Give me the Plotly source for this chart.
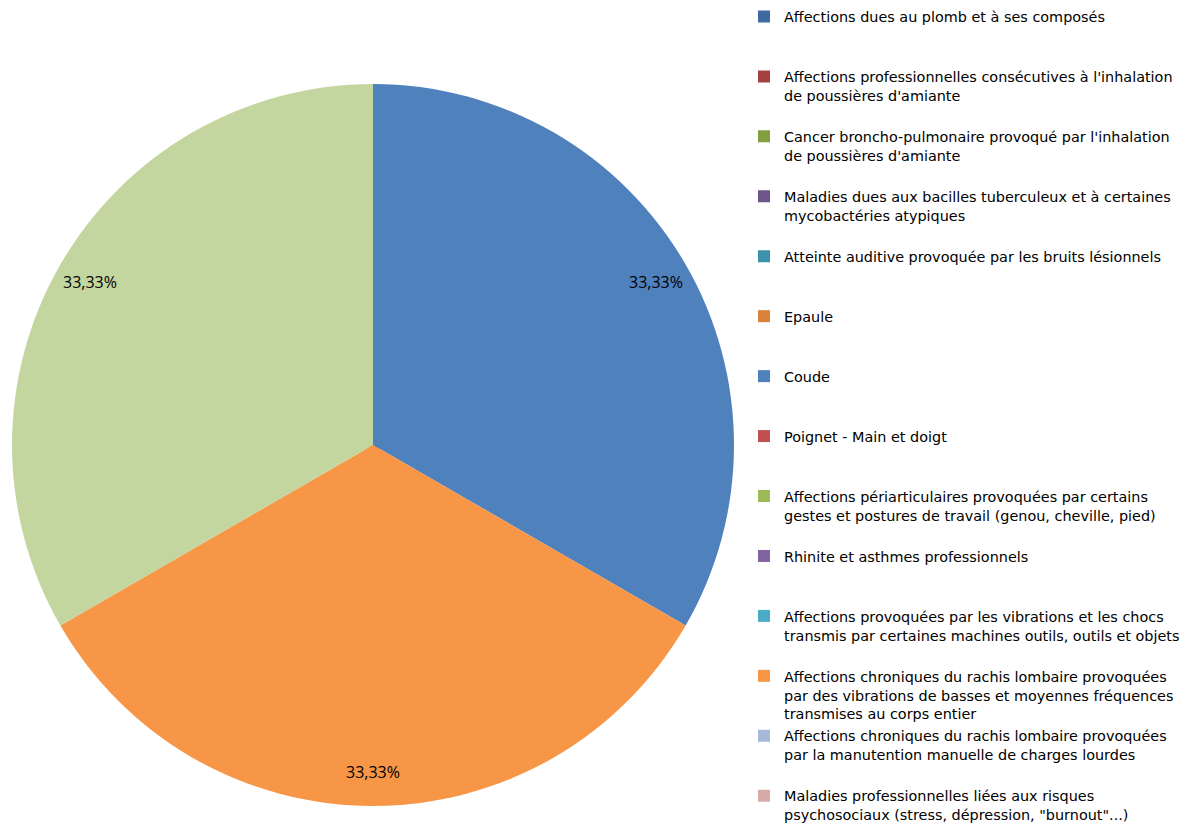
import math
import plotly.graph_objects as go

# Legend categories (as wrapped in the reference legend)
categories = [
    "Affections dues au plomb et à ses composés",
    "Affections professionnelles consécutives à l'inhalation<br>de poussières d'amiante",
    "Cancer broncho-pulmonaire provoqué par l'inhalation<br>de poussières d'amiante",
    "Maladies dues aux bacilles tuberculeux et à certaines<br>mycobactéries atypiques",
    "Atteinte auditive provoquée par les bruits lésionnels",
    "Epaule",
    "Coude",
    "Poignet - Main et doigt",
    "Affections périarticulaires provoquées par certains<br>gestes et postures de travail (genou, cheville, pied)",
    "Rhinite et asthmes professionnels",
    "Affections provoquées par les vibrations et les chocs<br>transmis par certaines machines outils, outils et objets",
    "Affections chroniques du rachis lombaire provoquées<br>par des vibrations de basses et moyennes fréquences<br>transmises au corps entier",
    "Affections chroniques du rachis lombaire provoquées<br>par la manutention manuelle de charges lourdes",
    "Maladies professionnelles liées aux risques<br>psychosociaux (stress, dépression, \"burnout\"...)",
]
# a 15th category exists in the pie but its legend entry is cut off in the reference
extra_category = "Autres"

values = [0, 0, 0, 0, 0, 0, 1, 0, 0, 0, 0, 1, 0, 0]
extra_value = 1

colors = [
    "#3F6AA1", "#A4403D", "#83A041", "#6B5589", "#3B93AB", "#D88239",
    "#4F81BD", "#C0504D", "#9BBB59", "#8064A2", "#4BACC6", "#F79646",
    "#A7B9DA", "#D9AAAA",
]
extra_color = "#C4D6A0"

LEG_FONT = "DejaVu Sans"
LEG_SIZE = 14.6      # drives the legend line spacing
LEG_TEXT_SIZE = 14.4  # rendered size of the legend text
LBL_FONT = "Open Sans"


def legend_text(s, last=False):
    lines = s.split("<br>")
    target = 2 if last else 3
    lines = [f'<span style="font-size:{LEG_TEXT_SIZE}px">{ln}</span>' for ln in lines]
    lines += ["&nbsp;"] * max(0, target - len(lines))
    return "<br>".join(lines)


legend_labels = [legend_text(c, i == len(categories) - 1) for i, c in enumerate(categories)]
all_labels = legend_labels + [extra_category]
all_values = values + [extra_value]
all_colors = colors + [extra_color]

W, H = 1187, 836
cx, cy, R = 365, 437, 361
dx = [(cx - R) / W, (cx + R) / W]
dy = [(H - cy - R) / H, (H - cy + R) / H]

fig = go.Figure()
# legend-carrying trace (tiny, hidden beneath the main pie)
fig.add_trace(go.Pie(
    labels=legend_labels, values=values,
    marker=dict(colors=colors, line=dict(width=0)),
    sort=False, direction="clockwise", textinfo="none", hoverinfo="skip",
    domain=dict(x=[cx / W - 0.01, cx / W + 0.01], y=[(H - cy) / H - 0.01, (H - cy) / H + 0.01]),
    showlegend=True,
))
# main pie
fig.add_trace(go.Pie(
    labels=all_labels, values=all_values,
    marker=dict(colors=all_colors, line=dict(width=0)),
    sort=False, direction="clockwise", textinfo="none",
    domain=dict(x=dx, y=dy),
    showlegend=False,
))

# percentage labels placed near the rim, at each slice's mid-angle
total = sum(all_values)
cum = 0.0
for v in all_values:
    if v > 0:
        mid = (cum + v / 2) / total * 2 * math.pi
        k = 0.905
        px = cx + k * R * math.sin(mid)
        py = cy - k * R * math.cos(mid)
        fig.add_annotation(
            x=px / W, y=1 - py / H, xref="paper", yref="paper",
            text=f"{v / total * 100:.2f}".replace(".", ",") + "%",
            showarrow=False, xanchor="center", yanchor="middle",
            font=dict(family=LBL_FONT, size=16, color="#000000"),
        )
    cum += v

fig.update_layout(
    width=W, height=H,
    margin=dict(l=0, r=0, t=0, b=0, autoexpand=False),
    paper_bgcolor="white",
    separators=", ",
    font=dict(family=LEG_FONT, size=LEG_SIZE, color="#000000"),
    legend=dict(
        x=736 / W, xanchor="left", y=1 - 408 / H, yanchor="middle",
        valign="top", traceorder="normal",
        font=dict(family=LEG_FONT, size=LEG_SIZE, color="#000000"),
        bgcolor="rgba(0,0,0,0)",
    ),
)

fig.write_html("out.html")
